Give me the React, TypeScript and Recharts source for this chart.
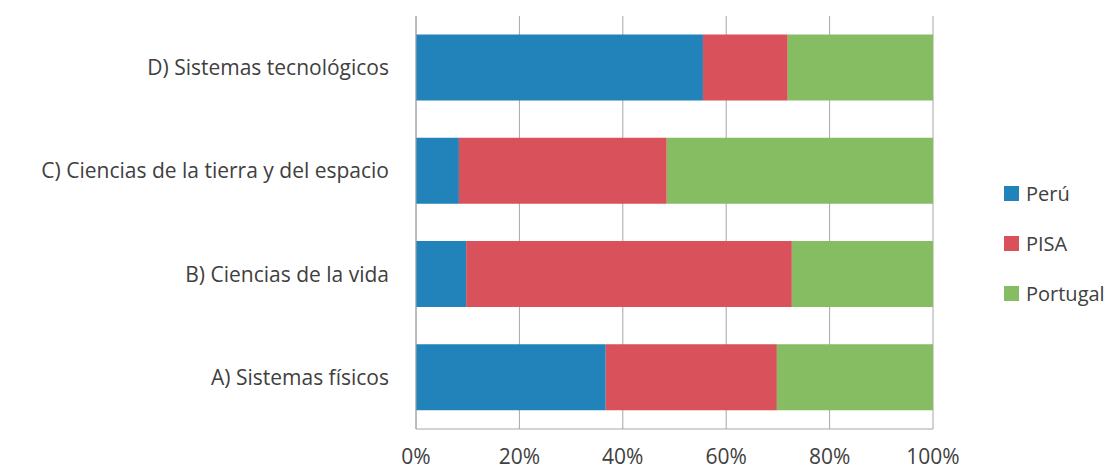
import React from 'react';
import { BarChart, Bar, XAxis, YAxis, CartesianGrid } from 'recharts';

const categories = [
  'D) Sistemas tecnológicos',
  'C) Ciencias de la tierra y del espacio',
  'B) Ciencias de la vida',
  'A) Sistemas físicos',
];
const peru = [55.5, 8.3, 9.7, 36.7];
const pisa = [16.4, 40.2, 63.0, 33.1];
const portugal = [28.1, 51.5, 27.3, 30.2];
const xTicks = [0, 0.2, 0.4, 0.6, 0.8, 1];

const series = [
  { key: 'peru', name: 'Perú', color: '#2183B9' },
  { key: 'pisa', name: 'PISA', color: '#D9515A' },
  { key: 'portugal', name: 'Portugal', color: '#87BD62' },
];

const data = categories.map((name, i) => ({
  name,
  peru: peru[i],
  pisa: pisa[i],
  portugal: portugal[i],
}));

const FONT = '"Open Sans", Lato, sans-serif';
const TEXT = '#404040';
const GRID = '#a6a6a6';

export default function App() {
  return (
    <div style={{ position: 'absolute', left: 0, top: 0, width: 1118, height: 473, background: '#fff', fontFamily: FONT }}>
      <BarChart
        width={1118}
        height={473}
        data={data}
        layout="vertical"
        stackOffset="expand"
        barCategoryGap="18%"
        margin={{ top: 16, right: 185, bottom: 0, left: 0 }}
      >
        <CartesianGrid horizontal={false} vertical stroke={GRID} strokeWidth={1} />
        <XAxis
          type="number"
          domain={[0, 1]}
          ticks={xTicks}
          tickFormatter={(v: number) => `${Math.round(v * 100)}%`}
          height={44}
          stroke={GRID}
          tickLine={false}
          tickMargin={14}
          tick={{ fill: TEXT, fontSize: 21, fontFamily: FONT }}
          interval={0}
        />
        <YAxis
          type="category"
          dataKey="name"
          width={416}
          stroke={GRID}
          tickLine={false}
          tickMargin={21}
          tick={{ fill: TEXT, fontSize: 21, fontFamily: FONT }}
          interval={0}
        />
        {series.map((s) => (
          <Bar key={s.key} dataKey={s.key} name={s.name} stackId="a" fill={s.color} isAnimationActive={false} />
        ))}
      </BarChart>
      <div style={{ position: 'absolute', left: 1004, top: 168 }}>
        {series.map((s) => (
          <div key={s.key} style={{ display: 'flex', alignItems: 'center', height: 50, color: TEXT, fontSize: 20 }}>
            <span style={{ display: 'inline-block', width: 15, height: 15, background: s.color, marginRight: 7 }} />
            <span>{s.name}</span>
          </div>
        ))}
      </div>
    </div>
  );
}
